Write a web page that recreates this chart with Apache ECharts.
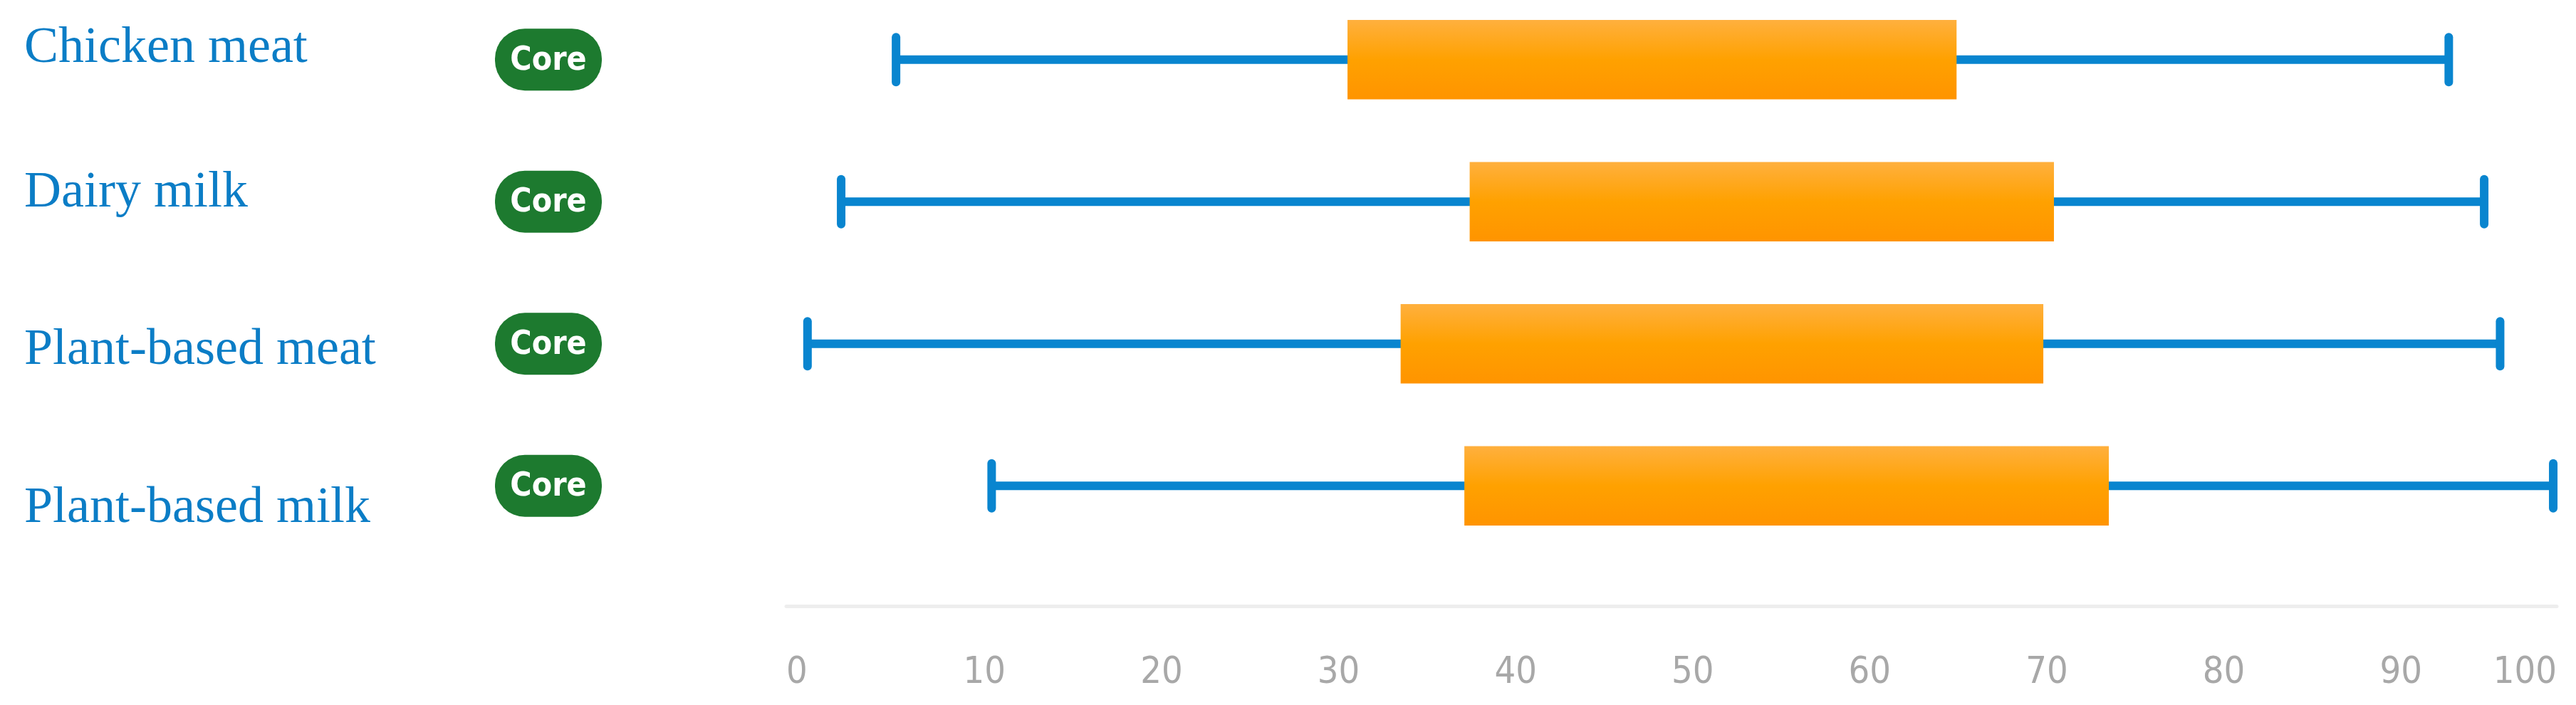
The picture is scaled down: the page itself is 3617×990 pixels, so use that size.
<!DOCTYPE html>
<html>
<head>
<meta charset="utf-8">
<title>Core foods range</title>
<script src="https://cdn.jsdelivr.net/npm/echarts@6/dist/echarts.min.js"></script>
<style>
  html, body { margin: 0; padding: 0; background: #fff; }
  #main { width: 3617px; height: 990px; }
</style>
</head>
<body>
<div id="main"></div>
<script>
// values (0-100 scale)
const categories = ['Chicken meat', 'Dairy milk', 'Plant-based meat', 'Plant-based milk']
const badges = ['Core', 'Core', 'Core', 'Core']
const whiskerMin = [6.2, 3.1, 1.2, 11.6]
const boxLow = [31.7, 38.6, 34.7, 38.3]
const boxHigh = [66.1, 71.6, 71.0, 74.7]
const whiskerMax = [93.9, 95.9, 96.8, 99.8]

// label nudges (px, up is negative) so names sit like in the original page
const nameShift = [-16, -12, 9, 32]

const blue = '#0985CF'
const narrow = "'Liberation Sans Narrow', 'DejaVu Sans Condensed', Arial, sans-serif"

const rows = categories.map((c, i) => [i, whiskerMin[i], boxLow[i], boxHigh[i], whiskerMax[i]])

const rich = {
  core: {
    width: 150, height: 83, lineHeight: 83, align: 'center',
    backgroundColor: '#1D7A2F', borderRadius: 42,
    color: '#fff', fontSize: 46, fontWeight: 'bold', fontFamily: narrow,
    padding: [4, 0, 0, 0]
  }
}
nameShift.forEach((d, i) => {
  rich['n' + i] = {
    width: 661, fontSize: 72, lineHeight: 80,
    fontFamily: "'Liberation Serif', 'Times New Roman', serif",
    color: '#0B7DC6',
    padding: d > 0 ? [2 * d, 0, 0, 0] : [0, 0, -2 * d, 0]
  }
})

function renderItem(params, api) {
  const cat = api.value(0)
  const lo = api.coord([api.value(1), cat])
  const q1 = api.coord([api.value(2), cat])
  const q3 = api.coord([api.value(3), cat])
  const hi = api.coord([api.value(4), cat])
  const band = api.size([0, 1])[1]
  const boxH = band * 0.56
  const capH = band * 0.316
  const y = lo[1]
  const capStyle = { stroke: blue, lineWidth: 12, lineCap: 'round' }
  return {
    type: 'group',
    children: [
      { type: 'line', shape: { x1: lo[0], y1: y, x2: hi[0], y2: y }, style: { stroke: blue, lineWidth: 12 } },
      { type: 'line', shape: { x1: lo[0], y1: y - capH / 2, x2: lo[0], y2: y + capH / 2 }, style: capStyle },
      { type: 'line', shape: { x1: hi[0], y1: y - capH / 2, x2: hi[0], y2: y + capH / 2 }, style: capStyle },
      { type: 'rect',
        shape: { x: q1[0], y: y - boxH / 2, width: q3[0] - q1[0], height: boxH },
        style: {
          fill: new echarts.graphic.LinearGradient(0, 0, 0, 1, [
            { offset: 0, color: '#FFB03E' },
            { offset: 0.5, color: '#FFA100' },
            { offset: 1, color: '#FF9400' }
          ])
        } }
    ]
  }
}

const myChart = echarts.init(document.getElementById('main'))
myChart.setOption({
  animation: false,
  grid: { left: 1104, right: 27, top: -16, bottom: 208, outerBoundsMode: 'none', containLabel: false },
  xAxis: {
    type: 'value',
    min: 0,
    max: 100,
    interval: 10,
    offset: 69,
    axisLine: { show: true, lineStyle: { color: '#EEEEEE', width: 5 } },
    axisTick: { show: false },
    splitLine: { show: false },
    axisLabel: {
      align: 'left',
      alignMaxLabel: 'right',
      margin: 68,
      color: '#A8A8A8',
      fontSize: 52,
      fontFamily: narrow
    }
  },
  yAxis: {
    type: 'category',
    data: categories,
    inverse: true,
    axisLine: { show: false },
    axisTick: { show: false },
    splitLine: { show: false },
    axisLabel: {
      align: 'left',
      margin: 1070,
      formatter: (v, i) => '{n' + i + '|' + v + '}{core|' + badges[i] + '}',
      rich: rich
    }
  },
  series: [
    {
      type: 'custom',
      renderItem: renderItem,
      encode: { x: [1, 2, 3, 4], y: 0 },
      clip: false,
      data: rows
    }
  ]
})
</script>
</body>
</html>
